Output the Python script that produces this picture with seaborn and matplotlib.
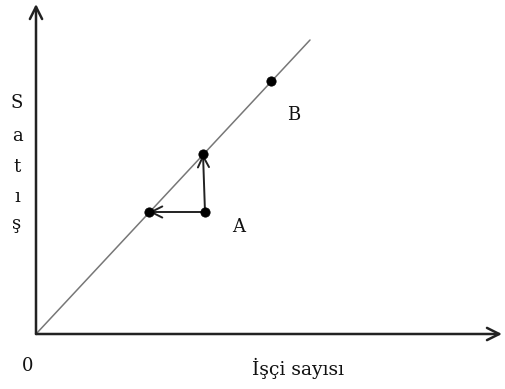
import matplotlib
matplotlib.use("Agg")
import matplotlib.pyplot as plt
import seaborn as sns
import pandas as pd

# Data (in pixel-like units from origin)
line_x = [0, 274]
line_y = [0, 294]
point_names = ["B", "C", "A", "D"]
point_x = [235, 167, 169, 113]
point_y = [253, 180, 122, 122]
label_text = ["B", "A"]
label_x = [258, 203]
label_y = [219, 107]
x_label = "İşçi sayısı"
y_letters = ["S", "a", "t", "ı", "ş"]
y_letter_pos = [231, 198, 167, 137, 110]

sns.set_theme(style="white")
plt.rcParams['font.family'] = ['DejaVu Serif']

fig = plt.figure(figsize=(5.05, 3.89), dpi=100)
ax = fig.add_axes([0, 0, 1, 1])
ax.set_xlim(-36, 469)
ax.set_ylim(-55, 334)
ax.axis("off")

# Axes arrows
ax.annotate("", xy=(0, 330), xytext=(0, 0),
            arrowprops=dict(arrowstyle="->", lw=1.8, color="#222222",
                            mutation_scale=22, shrinkA=0, shrinkB=0))
ax.annotate("", xy=(466, 0), xytext=(0, 0),
            arrowprops=dict(arrowstyle="->", lw=1.8, color="#222222",
                            mutation_scale=22, shrinkA=0, shrinkB=0))

df_line = pd.DataFrame({"x": line_x, "y": line_y})
sns.lineplot(data=df_line, x="x", y="y", ax=ax, color="#777777", lw=1.1)

df_pts = pd.DataFrame({"name": point_names, "x": point_x, "y": point_y})
sns.scatterplot(data=df_pts, x="x", y="y", ax=ax, color="black", s=45,
                edgecolor="black", zorder=5, legend=False)

# Movement arrows from A
ax.annotate("", xy=(point_x[1], point_y[1]), xytext=(point_x[2], point_y[2]),
            arrowprops=dict(arrowstyle="->", lw=1.4, color="#222222",
                            mutation_scale=20, shrinkA=0, shrinkB=0))
ax.annotate("", xy=(point_x[3], point_y[3]), xytext=(point_x[2], point_y[2]),
            arrowprops=dict(arrowstyle="->", lw=1.4, color="#222222",
                            mutation_scale=20, shrinkA=0, shrinkB=0))

for t, x, y in zip(label_text, label_x, label_y):
    ax.text(x, y, t, fontsize=13, ha="center", va="center", color="#111111")

ax.text(-8, -32, "0", fontsize=13, ha="center", va="center", color="#111111")
ax.text(262, -34, x_label, fontsize=13.5, ha="center", va="center", color="#111111")
for t, y in zip(y_letters, y_letter_pos):
    ax.text(-19, y, t, fontsize=13, ha="center", va="center", color="#111111")

ax.set_xlabel("")
ax.set_ylabel("")
fig.savefig("out.png", dpi=100)
